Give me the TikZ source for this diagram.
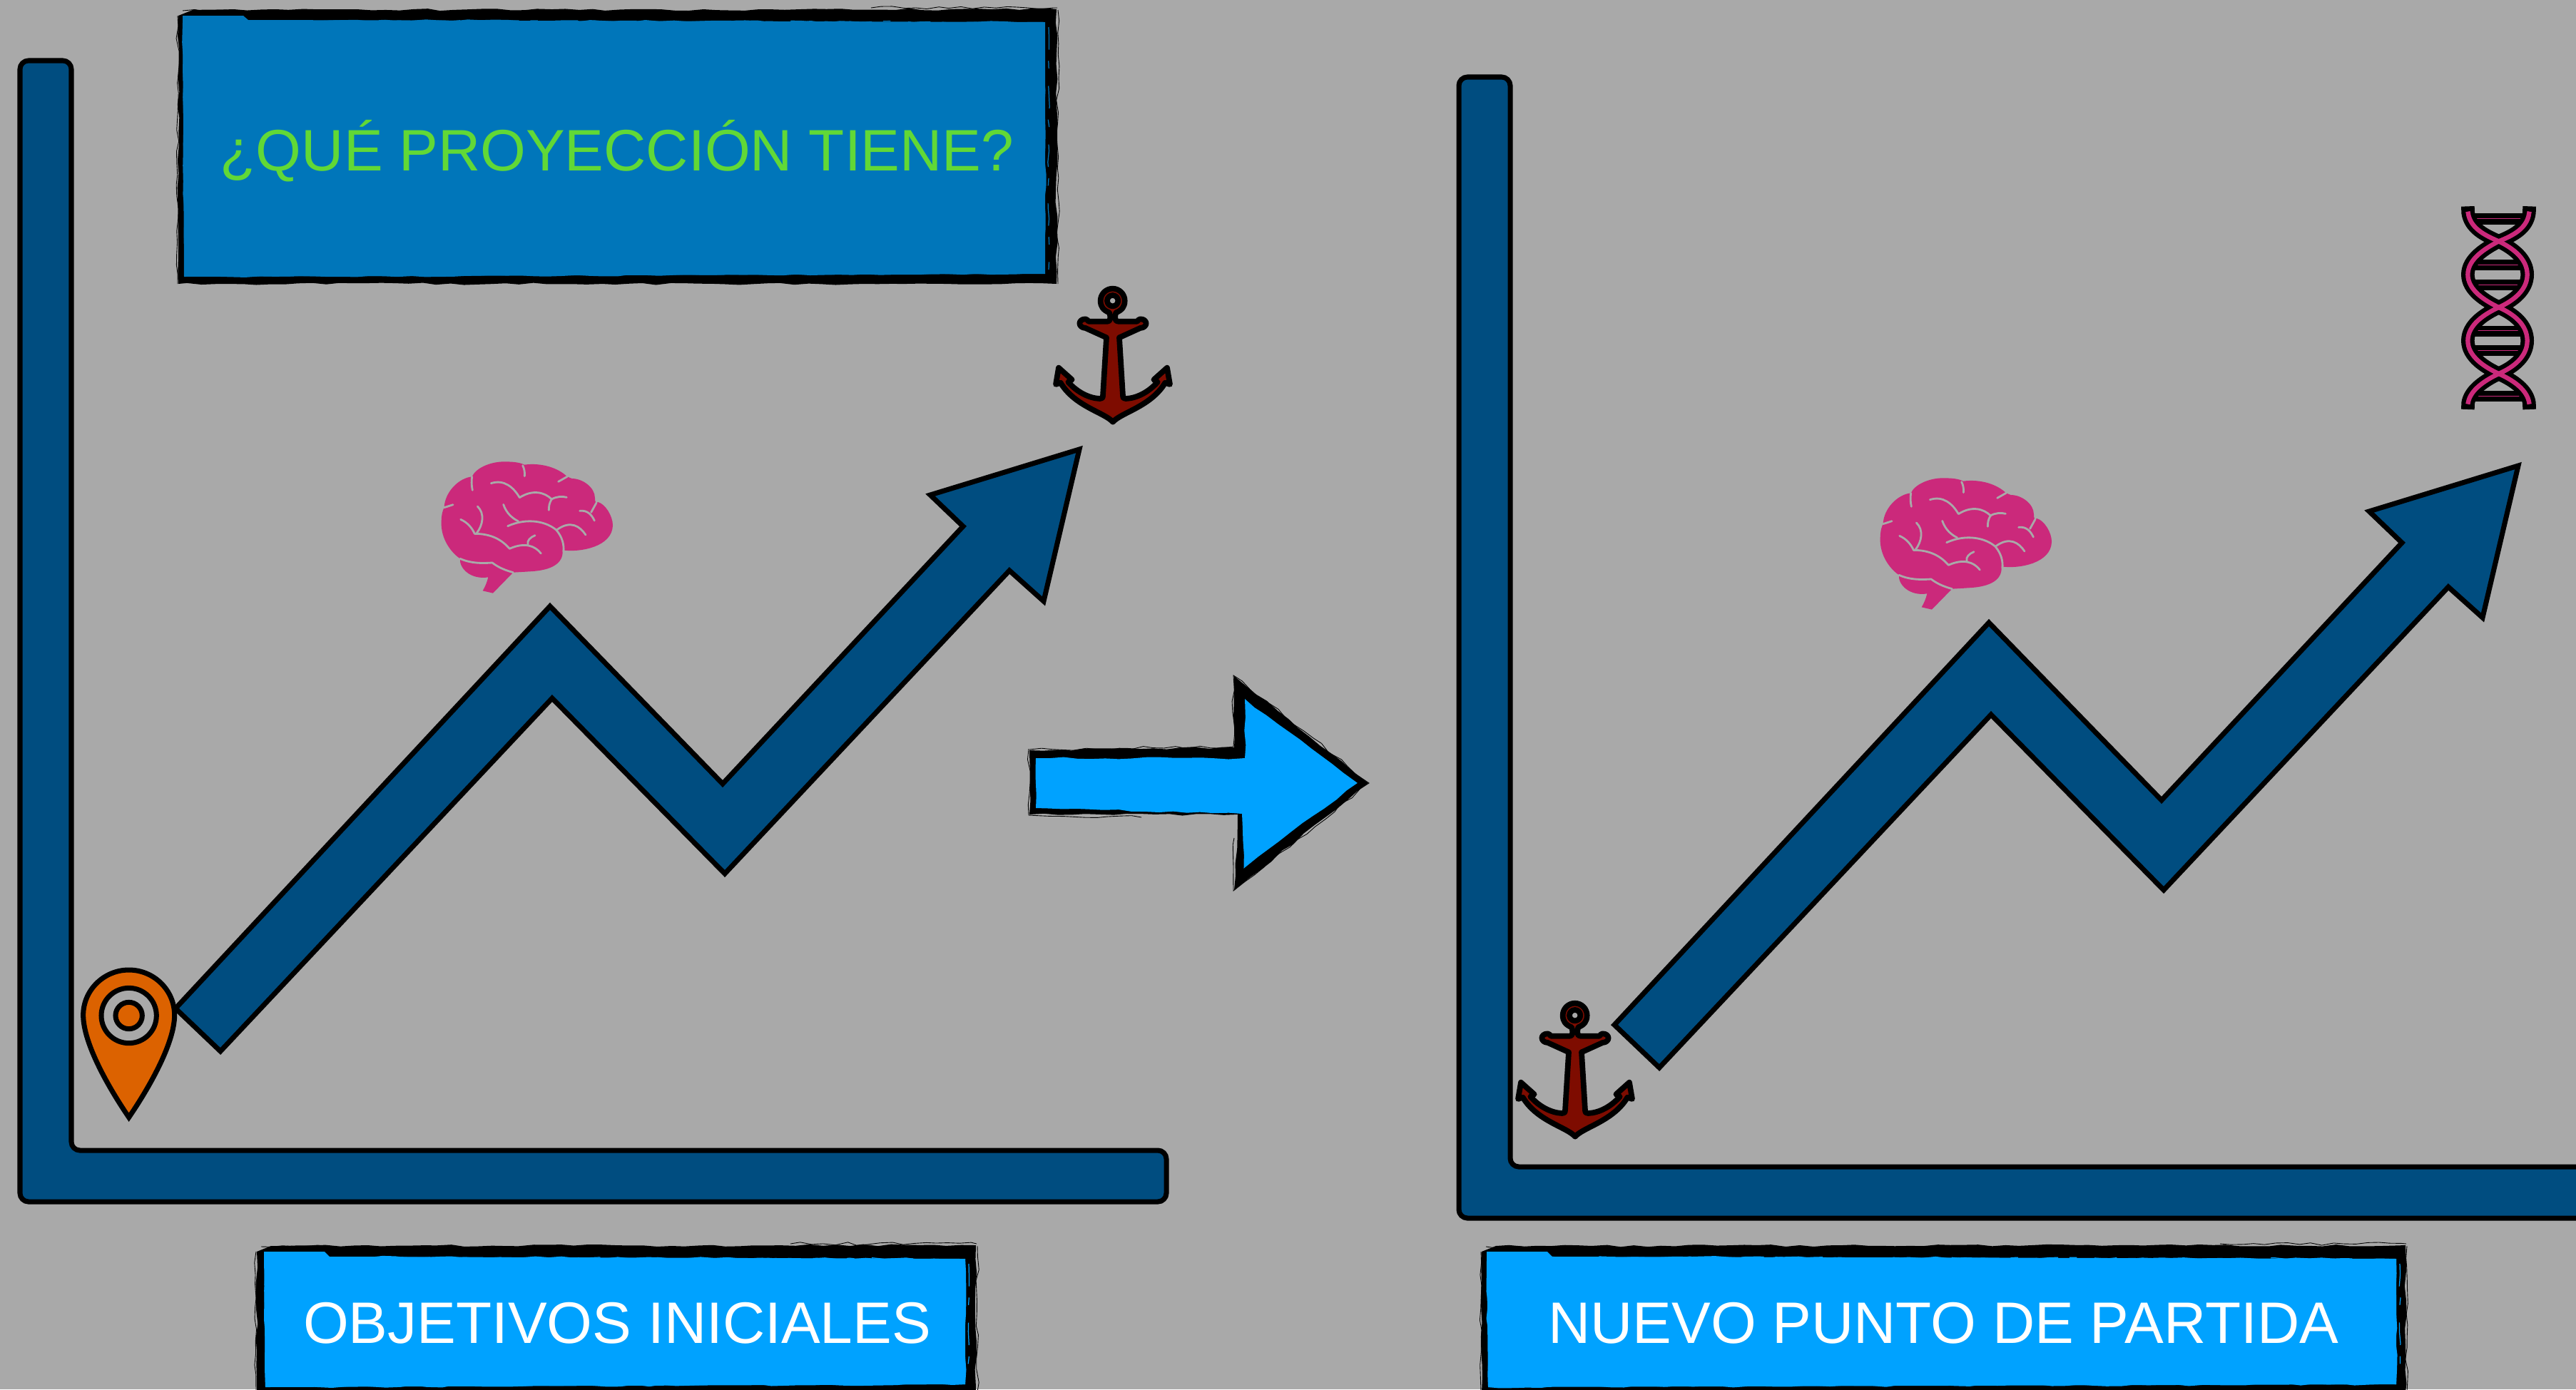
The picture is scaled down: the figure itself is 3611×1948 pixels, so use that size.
\documentclass[tikz,border=0pt]{standalone}
\usepackage{fontspec}
\setmainfont{Liberation Sans}
\usetikzlibrary{decorations.pathmorphing}
\definecolor{bgc}{HTML}{A9A9A9}
\definecolor{navy}{HTML}{004D80}
\definecolor{boxblue}{HTML}{0076BA}
\definecolor{brightblue}{HTML}{00A2FF}
\definecolor{lime}{HTML}{61D836}
\definecolor{pinkc}{HTML}{CB297B}
\definecolor{brownc}{HTML}{7E0C00}
\definecolor{orangec}{HTML}{DC6200}
\tikzset{
  chartshape/.style={fill=navy,draw=black,line width=4pt,miter limit=10},
  sulcus/.style={draw=bgc,line width=1.6pt,line cap=round,line join=round},
  anchorshape/.style={fill=brownc,draw=black,line width=4.4pt,line join=round,even odd rule},
  pinshape/.style={draw=black,line width=4pt,miter limit=10},
  rough/.style={decorate,decoration={random steps,segment length=11pt,amplitude=0.9pt}},
  scratch/.style={draw=black,line width=0.5pt,decorate,decoration={random steps,segment length=9pt,amplitude=1.3pt}},
  scratchblue/.style={draw=#1,line width=0.7pt,dash pattern=on 18pt off 9pt on 6pt off 14pt,decorate,decoration={random steps,segment length=9pt,amplitude=0.7pt}},
  labeltext/.style={inner sep=0pt,anchor=base,font=\fontsize{46.7pt}{50pt}\selectfont},
}
% brain, drawn in the coordinates of a 3x crop
\newcommand{\mybrain}{%
  \fill[pinkc] (478,608) .. controls (510,606) and (535,605) .. (545,604)
    .. controls (640,600) and (690,570) .. (686,514)
    .. controls (760,525) and (895,500) .. (897,410)
    .. controls (897,370) and (865,320) .. (835,312)
    .. controls (825,320) and (822,310) .. (822,295)
    .. controls (822,250) and (770,213) .. (725,213)
    -- (705,205) .. controls (670,170) and (600,145) .. (525,155)
    .. controls (505,145) and (480,142) .. (440,142)
    .. controls (380,142) and (320,170) .. (305,205)
    .. controls (250,210) and (190,270) .. (188,335)
    .. controls (175,360) and (176,390) .. (176,410)
    .. controls (180,480) and (225,530) .. (255,550)
    .. controls (250,590) and (300,640) .. (373,628)
    .. controls (368,650) and (360,668) .. (350,685) -- (393,695) -- cycle;
  \draw[sulcus] (307,262) .. controls (302,240) and (303,220) .. (305,205);
  \draw[sulcus] (526,203) .. controls (528,185) and (524,170) .. (518,158);
  \draw[sulcus] (385,233) .. controls (440,215) and (480,250) .. (505,293)
     .. controls (560,258) and (610,270) .. (640,300)
     .. controls (660,288) and (685,287) .. (703,292);
  \draw[sulcus] (640,300) .. controls (630,315) and (628,330) .. (628,346);
  \draw[sulcus] (668,226) -- (705,205);
  \draw[sulcus] (758,349) .. controls (790,345) and (808,365) .. (820,390);
  \draw[sulcus] (806,355) -- (828,315);
  \draw[sulcus] (188,335) -- (225,323);
  \draw[sulcus] (437,322) .. controls (450,360) and (475,380) .. (500,393);
  \draw[sulcus] (455,413) .. controls (540,375) and (620,395) .. (660,430)
     .. controls (685,460) and (692,490) .. (690,520);
  \draw[sulcus] (660,430) .. controls (720,385) and (760,415) .. (783,450);
  \draw[sulcus] (328,330) .. controls (360,360) and (350,410) .. (325,442);
  \draw[sulcus] (257,385) .. controls (285,397) and (305,420) .. (316,445)
     .. controls (385,445) and (430,470) .. (463,508)
     .. controls (525,480) and (570,495) .. (595,528);
  \draw[sulcus] (540,490) .. controls (535,475) and (550,460) .. (570,452);
  \draw[sulcus] (255,550) .. controls (300,570) and (345,570) .. (390,567)
     .. controls (420,590) and (450,600) .. (478,608);
}
% anchor, drawn in the coordinates of a 3x crop
\newcommand{\myanchor}{%
  \draw[anchorshape] (420,665) .. controls (385,625) and (260,600) .. (200,500)
    -- (180,507) -- (192,437) -- (248,487) -- (232,497)
    .. controls (270,540) and (320,565) .. (365,567)
    .. controls (372,567) and (378,565) .. (378,555)
    -- (393,310) -- (305,270)
    .. controls (272,268) and (272,232) .. (305,232)
    .. controls (310,232) and (315,238) .. (318,242)
    -- (398,242) .. controls (410,242) and (412,225) .. (405,205)
    .. controls (380,195) and (368,180) .. (368,155)
    .. controls (368,127) and (391,104) .. (419,104)
    .. controls (447,104) and (470,127) .. (470,155)
    .. controls (470,180) and (458,195) .. (433,205)
    .. controls (426,225) and (428,242) .. (442,242)
    -- (522,242) .. controls (525,238) and (530,232) .. (535,232)
    .. controls (568,232) and (568,268) .. (535,270)
    -- (447,310) -- (462,555)
    .. controls (462,565) and (468,567) .. (475,567)
    .. controls (520,565) and (570,540) .. (608,497)
    -- (592,487) -- (648,437) -- (660,507) -- (640,500)
    .. controls (580,600) and (455,625) .. (420,665) -- cycle
    (419,155) circle[radius=23];
}
% one chart: axes and zigzag arrow; #1 is the right end of the axis
\newcommand{\mychart}[1]{%
  \draw[chartshape,rounded corners=0.24cm] (28,85) -- (100,85) -- (100,1613) -- (#1,1613) -- (#1,1685) -- (28,1685) -- cycle;
  \draw[chartshape] (246,1414) -- (771,850) -- (1013,1099) -- (1350,738) -- (1304,694) -- (1513,630)
     -- (1463,843) -- (1415,800) -- (1016,1225) -- (774,979) -- (309,1474) -- cycle;
  \begin{scope}[shift={(560,600)},scale=0.33333]\mybrain\end{scope}
}
% a box with a sketched frame
\newcommand{\mylabelbox}[9]{%
  % #1 left #2 top #3 right #4 bottom  #5 blue left #6 blue top #7 blue right #8 blue bottom #9 colour
  \fill[black,rough] ({#1+20},#2) -- (#3,{#2-1}) -- (#3,#4) -- (#1,#4) -- (#1,{#2+8}) -- cycle;
  \fill[#9] (#5,{#2+8}) -- ({#5+85},{#2+8}) -- ({#5+92},#6) -- (#7,{#6+3}) -- (#7,{#8-4}) -- ({#5+2},#8) -- cycle;
  \fill[#9,rough] ({#5+70},#6) -- (#7,{#6+3}) -- (#7,{#8-4}) -- ({#5+2},#8) -- (#5,{#6+4}) -- cycle;
  \draw[scratch] ({#1+6},{#2+1}) -- ({#1+130},{#2+1});
  \draw[scratch] ({#3-260},{#2-3}) -- ({#3+1},{#2-3});
  \draw[scratch] ({#3+2},#2) -- ({#3+2},#4);
  \draw[scratch] ({#1-1},{#2+8}) -- ({#1-1},#4);
  \draw[scratchblue=#9] ({#5+110},{#6+1}) -- ({#7-60},{#6+3});
  \draw[scratchblue=#9] ({#7+5},{#6+10}) -- ({#7+5},{#8-10});
}
\begin{document}
\begin{tikzpicture}[x=0.02cm,y=-0.02cm]
\useasboundingbox (0,0) rectangle (3611,1948);
\clip (0,0) rectangle (3611,1948);
\fill[bgc] (0,0) rectangle (3611,1948);
\pgfmathsetseed{42}

% ---- left chart
\mychart{1635}
% pin
\begin{scope}[shift={(90,1340)},scale=0.33333]
  \draw[pinshape,fill=orangec] (272,680) .. controls (190,560) and (80,370) .. (80,250)
     .. controls (80,145) and (167,60) .. (272,60)
     .. controls (377,60) and (464,145) .. (464,250)
     .. controls (464,370) and (354,560) .. (272,680) -- cycle;
  \draw[pinshape,fill=bgc] (272,252) circle[radius=116];
  \draw[pinshape,fill=orangec] (272,252) circle[radius=56];
\end{scope}
% anchor at the top
\begin{scope}[shift={(1420,370)},scale=0.33333]\myanchor\end{scope}

% ---- right chart
\begin{scope}[shift={(2017,23)}]
  \mychart{1800}
\end{scope}
% anchor at the origin
\begin{scope}[shift={(2068,1372)},scale=0.33333]\myanchor\end{scope}
% DNA
\begin{scope}[shift={(3420,270)},scale=0.33333]
  \fill[black] (130,87) rectangle (365,135);
  \fill[black] (135,282) rectangle (360,328);
  \fill[black] (135,365) rectangle (360,410);
  \fill[black] (135,560) rectangle (360,605);
  \fill[black] (135,643) rectangle (360,688);
  \fill[black] (135,835) rectangle (360,880);
  \foreach \ry in {110,303,387,580,664,857}{\draw[pinkc,line width=0.5pt] (135,\ry) -- (360,\ry);}
  \foreach \sw/\sc/\se in {10.6pt/black/58,3.6pt/pinkc/80}{
    \draw[\sc,line width=\sw] (118,\se) -- (119,85) .. controls (128,150) and (190,180) .. (248,205)
      .. controls (310,235) and (368,280) .. (368,345)
      .. controls (368,410) and (310,455) .. (248,483)
      .. controls (190,510) and (118,555) .. (118,623)
      .. controls (118,690) and (190,735) .. (248,762)
      .. controls (310,790) and (368,830) .. (376,885) -- (377,\numexpr970-\se\relax);
    \draw[\sc,line width=\sw] (377,\se) -- (376,85) .. controls (368,150) and (310,180) .. (248,205)
      .. controls (190,235) and (118,280) .. (118,345)
      .. controls (118,410) and (190,455) .. (248,483)
      .. controls (310,510) and (368,555) .. (368,623)
      .. controls (368,690) and (310,735) .. (248,762)
      .. controls (190,790) and (128,830) .. (119,885) -- (118,\numexpr970-\se\relax);
  }
\end{scope}

% ---- central sketched arrow
\fill[black,rough] (1443,1052) -- (1730,1048) -- (1730,948) -- (1918,1098) -- (1730,1248) -- (1735,1142) -- (1443,1142) -- cycle;
\fill[bgc] (1700,1143) -- (1733,1143) -- (1733,1149) -- (1700,1149) -- cycle;
\fill[brightblue,rough] (1452,1063) -- (1745,1063) -- (1745,980) -- (1903,1098) -- (1743,1218) -- (1741,1141) -- (1452,1133) -- cycle;
\draw[scratch] (1443,1051) -- (1729,1047) -- (1729,947) -- (1919,1098) -- (1729,1249) -- (1730,1175);
\draw[scratch] (1442,1050) -- (1442,1143) -- (1600,1146);

% ---- boxes
\mylabelbox{250}{14}{1481}{398}{256}{28}{1465}{388}{boxblue}
\mylabelbox{360}{1747}{1368}{1952}{370}{1762}{1353}{1945}{brightblue}
\mylabelbox{2077}{1747}{3372}{1952}{2084}{1762}{3359}{1945}{brightblue}
\node[labeltext,text=lime] (question) at (865,239) {¿QUÉ PROYECCIÓN TIENE?};
\node[labeltext,text=white] (initial) at (865,1883) {OBJETIVOS INICIALES};
\node[labeltext,text=white] (newstart) at (2724,1883) {NUEVO PUNTO DE PARTIDA};
\end{tikzpicture}
\end{document}
